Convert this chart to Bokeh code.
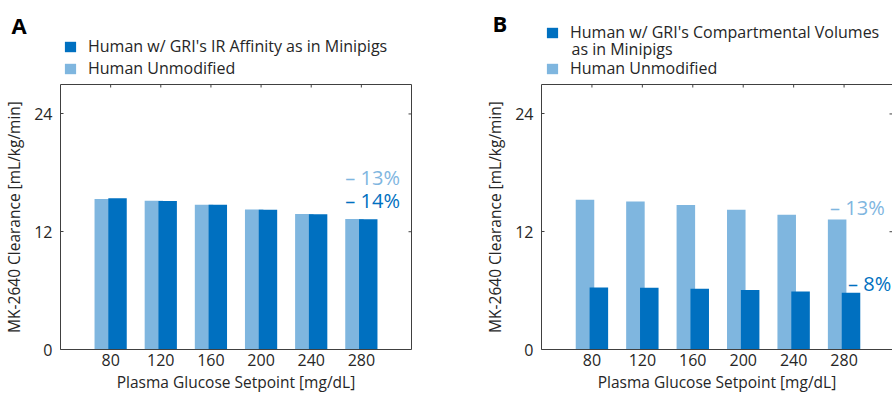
from bokeh.plotting import figure
from bokeh.layouts import row, column
from bokeh.models import Range1d, LinearAxis, FixedTicker, Label, Legend, LegendItem
from bokeh.embed import file_html
from bokeh.resources import INLINE

# ---- data ----
glucose = [80, 120, 160, 200, 240, 280]
y_ticks = [0, 12, 24]
human_unmod_a = [15.33, 15.15, 14.75, 14.27, 13.80, 13.30]
human_ir_affinity = [15.42, 15.13, 14.75, 14.25, 13.78, 13.27]
human_unmod_b = [15.25, 15.09, 14.72, 14.24, 13.74, 13.24]
human_volumes = [6.32, 6.28, 6.18, 6.05, 5.91, 5.78]
ann_a = ["\u2013 13%", "\u2013 14%"]
ann_b = ["\u2013 13%", "\u2013 8%"]
legend_a = ["Human w/ GRI's IR Affinity as in Minipigs", "Human Unmodified"]
legend_b = ["Human w/ GRI's Compartmental Volumes", "as in Minipigs", "Human Unmodified"]
x_label = "Plasma Glucose Setpoint [mg/dL]"
y_label = "MK-2640 Clearance [mL/kg/min]"

LIGHT = "#7FB6DF"
DARK = "#0070C0"
AX = "#404040"
TXT = "#262626"
FONT = "Open Sans"

W = 446
HEAD_H = 79
H = 396 - HEAD_H
FRAME_TOP = 5          # border above frame inside main figure
FRAME_BOTTOM = 47      # border below frame
Y_MAX = 27
X_MIN = 40


def no_align(fig):
    try:
        fig.frame_align = False
    except Exception:
        pass


def style_axis(ax, ticks, tin=3):
    ax.ticker = FixedTicker(ticks=ticks)
    ax.axis_line_color = AX
    ax.axis_line_width = 1
    ax.major_tick_line_color = AX
    ax.major_tick_in = tin
    ax.major_tick_out = 0
    ax.minor_tick_line_color = None
    ax.major_label_text_font = FONT
    ax.major_label_text_font_size = "16px"
    ax.major_label_text_color = TXT
    ax.axis_label_text_font = FONT
    ax.axis_label_text_font_size = "15.5px"
    ax.axis_label_text_font_style = "normal"
    ax.axis_label_text_color = TXT


def make_header(letter, letter_x, letter_y, leg, leg_loc, spacing, extra_xy,
                light_vals, dark_vals):
    h = figure(width=W, height=HEAD_H, output_backend="svg", toolbar_location=None,
               x_range=Range1d(0, 1), y_range=Range1d(0, 1),
               x_axis_location=None, y_axis_location=None,
               min_border=0, min_border_left=0, min_border_right=0,
               min_border_top=0, min_border_bottom=0)
    no_align(h)
    h.outline_line_color = None
    h.xgrid.grid_line_color = None
    h.ygrid.grid_line_color = None
    # legend proxies (same series, outside this header's visible range)
    rd = h.vbar(x=glucose, top=dark_vals, width=1, fill_color=DARK, line_color=None)
    rl = h.vbar(x=glucose, top=light_vals, width=1, fill_color=LIGHT, line_color=None)
    h.add_layout(Label(x=letter_x, y=letter_y, x_units="screen", y_units="screen",
                       text=letter, text_font=FONT, text_font_size="22px",
                       text_font_style="bold", text_color="black",
                       text_baseline="alphabetic"))
    items = [LegendItem(label=leg[0], renderers=[rd]), LegendItem(label=leg[-1], renderers=[rl])]
    lg = Legend(items=items, location=leg_loc, orientation="vertical",
                glyph_width=14, glyph_height=13, label_standoff=11,
                label_text_font=FONT, label_text_font_size="16px", label_text_color=TXT,
                label_height=18, spacing=spacing, padding=0, margin=0,
                border_line_color=None, background_fill_alpha=0)
    h.add_layout(lg)
    if len(leg) == 3:
        h.add_layout(Label(x=extra_xy[0], y=extra_xy[1], x_units="screen", y_units="screen",
                           text=leg[1], text_font=FONT, text_font_size="16px",
                           text_color=TXT, text_baseline="middle"))
    return h


def make_panel(light_vals, dark_vals, ann, left, right, frame_w, x_max, right_line, ann_off):
    p = figure(width=W, height=H, output_backend="svg", toolbar_location=None,
               x_range=Range1d(X_MIN, x_max), y_range=Range1d(0, Y_MAX),
               min_border_left=left, min_border_right=right,
               min_border_top=FRAME_TOP, min_border_bottom=FRAME_BOTTOM)
    no_align(p)
    p.outline_line_color = None
    p.xgrid.grid_line_color = None
    p.ygrid.grid_line_color = None

    off = 5.5
    bw = 14.7
    xl = [g - off for g in glucose]
    xd = [g + off for g in glucose]
    p.vbar(x=xl, top=light_vals, width=bw, fill_color=LIGHT, line_color=None)
    p.vbar(x=xd, top=dark_vals, width=bw, fill_color=DARK, line_color=None)

    style_axis(p.xaxis[0], glucose, tin=0)
    p.xaxis[0].axis_label = x_label
    p.xaxis[0].major_label_standoff = 4
    p.xaxis[0].axis_label_standoff = 2
    style_axis(p.yaxis[0], y_ticks)
    p.yaxis[0].axis_label = y_label
    p.yaxis[0].major_label_standoff = 8
    p.yaxis[0].axis_label_standoff = 6

    # box: top line (and right line for panel A) as label-less axes
    top = LinearAxis(ticker=FixedTicker(ticks=[]), axis_line_color=AX,
                     major_tick_line_color=None, minor_tick_line_color=None)
    p.add_layout(top, "above")
    if right_line:
        ra = LinearAxis(ticker=FixedTicker(ticks=[]), axis_line_color=AX,
                        major_tick_line_color=None, minor_tick_line_color=None)
        p.add_layout(ra, "right")

    # inward mirrored ticks on top and right
    px_x = (x_max - X_MIN) / frame_w
    px_y = Y_MAX / (H - FRAME_TOP - FRAME_BOTTOM)
    p.segment(x0=glucose, x1=glucose, y0=[Y_MAX] * len(glucose),
              y1=[Y_MAX - 3 * px_y] * len(glucose), line_color=AX, line_width=1)
    p.segment(x0=[x_max] * len(y_ticks), x1=[x_max - 3 * px_x] * len(y_ticks),
              y0=y_ticks, y1=y_ticks, line_color=AX, line_width=1)

    # percentage annotations
    (ox1, oy1), (ox2, oy2) = ann_off
    p.add_layout(Label(x=glucose[-1], y=light_vals[-1], x_offset=ox1, y_offset=oy1,
                       text=ann[0], text_font=FONT, text_font_size="20px", text_color=LIGHT,
                       text_baseline="middle", text_align="left"))
    p.add_layout(Label(x=glucose[-1], y=dark_vals[-1], x_offset=ox2, y_offset=oy2,
                       text=ann[1], text_font=FONT, text_font_size="20px", text_color=DARK,
                       text_baseline="middle", text_align="left"))
    return p


ha = make_header("A", 11, HEAD_H - 24, legend_a, (63, 0), 0, None,
                 human_unmod_a, human_ir_affinity)
hb = make_header("B", 46, HEAD_H - 22, legend_b, (99, 0), 14, (125, HEAD_H - 48),
                 human_unmod_b, human_volumes)

pa = make_panel(human_unmod_a, human_ir_affinity, ann_a, 58, 35, 353, 320, True,
                [(-16, 41), (-16, 19)])
pb = make_panel(human_unmod_b, human_volumes, ann_b, 95, 0, 351,
                X_MIN + 280 * 351 / 353, False, [(-14, 12), (4, 9)])

layout = row(column(ha, pa), column(hb, pb))
open("out.html", "w").write(file_html(layout, INLINE))
